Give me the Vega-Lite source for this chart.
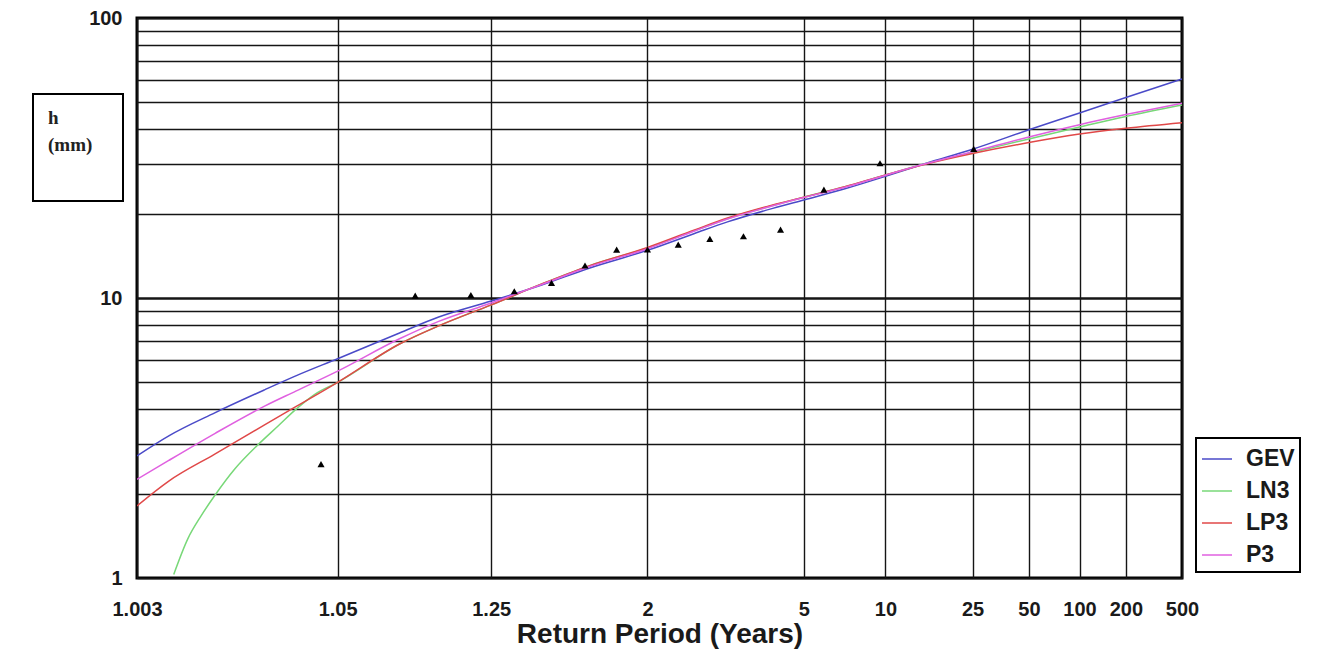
{
  "$schema": "https://vega.github.io/schema/vega-lite/v6.json",
  "width": 1045,
  "height": 560,
  "autosize": {"type": "none"},
  "padding": {"left": 137, "top": 18, "right": 138, "bottom": 71},
  "background": "white",
  "config": {
    "view": {"stroke": "#000", "strokeWidth": 3},
    "font": "Liberation Sans",
    "axis": {
      "grid": true,
      "gridColor": "#151515",
      "gridOpacity": 1,
      "gridWidth": 1.4,
      "domain": false,
      "ticks": false,
      "labelFont": "Liberation Sans",
      "labelFontWeight": "bold",
      "labelFontSize": 20,
      "labelColor": "#1a1a1a",
      "labelOverlap": false
    },
    "legend": {"strokeWidth": 2}
  },
  "datasets": {
    "curves": [
      {"dist": "GEV", "T": 1.003, "h": 2.73}, {"dist": "GEV", "T": 1.005, "h": 3.22}, {"dist": "GEV", "T": 1.01, "h": 3.89}, {"dist": "GEV", "T": 1.02, "h": 4.7}, {"dist": "GEV", "T": 1.03, "h": 5.27}, {"dist": "GEV", "T": 1.05, "h": 6.07}, {"dist": "GEV", "T": 1.1, "h": 7.5}, {"dist": "GEV", "T": 1.15, "h": 8.55}, {"dist": "GEV", "T": 1.25, "h": 9.75}, {"dist": "GEV", "T": 1.4, "h": 11.15}, {"dist": "GEV", "T": 1.6, "h": 12.75}, {"dist": "GEV", "T": 2, "h": 14.8}, {"dist": "GEV", "T": 2.5, "h": 17.0}, {"dist": "GEV", "T": 3, "h": 18.7}, {"dist": "GEV", "T": 4, "h": 20.9}, {"dist": "GEV", "T": 5, "h": 22.4}, {"dist": "GEV", "T": 7, "h": 24.6}, {"dist": "GEV", "T": 10, "h": 27.2}, {"dist": "GEV", "T": 15, "h": 30.3}, {"dist": "GEV", "T": 25, "h": 34.0}, {"dist": "GEV", "T": 50, "h": 39.9}, {"dist": "GEV", "T": 100, "h": 45.8}, {"dist": "GEV", "T": 200, "h": 52.0}, {"dist": "GEV", "T": 500, "h": 60.6},
      {"dist": "LN3", "T": 1.0054, "h": 1.03}, {"dist": "LN3", "T": 1.0067, "h": 1.38}, {"dist": "LN3", "T": 1.0082, "h": 1.67}, {"dist": "LN3", "T": 1.01, "h": 1.97}, {"dist": "LN3", "T": 1.0133, "h": 2.45}, {"dist": "LN3", "T": 1.0183, "h": 2.99}, {"dist": "LN3", "T": 1.0239, "h": 3.49}, {"dist": "LN3", "T": 1.03, "h": 4.0}, {"dist": "LN3", "T": 1.038, "h": 4.53}, {"dist": "LN3", "T": 1.05, "h": 5.0}, {"dist": "LN3", "T": 1.1, "h": 6.85}, {"dist": "LN3", "T": 1.15, "h": 7.95}, {"dist": "LN3", "T": 1.25, "h": 9.45}, {"dist": "LN3", "T": 1.4, "h": 11.25}, {"dist": "LN3", "T": 1.6, "h": 13.0}, {"dist": "LN3", "T": 2, "h": 15.1}, {"dist": "LN3", "T": 2.5, "h": 17.4}, {"dist": "LN3", "T": 3, "h": 19.2}, {"dist": "LN3", "T": 4, "h": 21.4}, {"dist": "LN3", "T": 5, "h": 22.9}, {"dist": "LN3", "T": 7, "h": 25.0}, {"dist": "LN3", "T": 10, "h": 27.5}, {"dist": "LN3", "T": 15, "h": 30.2}, {"dist": "LN3", "T": 25, "h": 33.1}, {"dist": "LN3", "T": 50, "h": 37.0}, {"dist": "LN3", "T": 100, "h": 40.8}, {"dist": "LN3", "T": 200, "h": 44.5}, {"dist": "LN3", "T": 500, "h": 48.9},
      {"dist": "LP3", "T": 1.003, "h": 1.81}, {"dist": "LP3", "T": 1.005, "h": 2.22}, {"dist": "LP3", "T": 1.01, "h": 2.77}, {"dist": "LP3", "T": 1.02, "h": 3.52}, {"dist": "LP3", "T": 1.03, "h": 4.09}, {"dist": "LP3", "T": 1.05, "h": 5.0}, {"dist": "LP3", "T": 1.1, "h": 6.85}, {"dist": "LP3", "T": 1.15, "h": 7.95}, {"dist": "LP3", "T": 1.25, "h": 9.45}, {"dist": "LP3", "T": 1.4, "h": 11.25}, {"dist": "LP3", "T": 1.6, "h": 13.0}, {"dist": "LP3", "T": 2, "h": 15.15}, {"dist": "LP3", "T": 2.5, "h": 17.5}, {"dist": "LP3", "T": 3, "h": 19.3}, {"dist": "LP3", "T": 4, "h": 21.5}, {"dist": "LP3", "T": 5, "h": 22.9}, {"dist": "LP3", "T": 7, "h": 25.0}, {"dist": "LP3", "T": 10, "h": 27.5}, {"dist": "LP3", "T": 15, "h": 30.1}, {"dist": "LP3", "T": 25, "h": 32.8}, {"dist": "LP3", "T": 50, "h": 35.9}, {"dist": "LP3", "T": 100, "h": 38.5}, {"dist": "LP3", "T": 200, "h": 40.4}, {"dist": "LP3", "T": 500, "h": 42.3},
      {"dist": "P3", "T": 1.003, "h": 2.25}, {"dist": "P3", "T": 1.005, "h": 2.63}, {"dist": "P3", "T": 1.01, "h": 3.28}, {"dist": "P3", "T": 1.02, "h": 4.11}, {"dist": "P3", "T": 1.03, "h": 4.65}, {"dist": "P3", "T": 1.05, "h": 5.48}, {"dist": "P3", "T": 1.1, "h": 7.15}, {"dist": "P3", "T": 1.15, "h": 8.25}, {"dist": "P3", "T": 1.25, "h": 9.6}, {"dist": "P3", "T": 1.4, "h": 11.2}, {"dist": "P3", "T": 1.6, "h": 12.9}, {"dist": "P3", "T": 2, "h": 15.0}, {"dist": "P3", "T": 2.5, "h": 17.35}, {"dist": "P3", "T": 3, "h": 19.15}, {"dist": "P3", "T": 4, "h": 21.35}, {"dist": "P3", "T": 5, "h": 22.85}, {"dist": "P3", "T": 7, "h": 24.9}, {"dist": "P3", "T": 10, "h": 27.45}, {"dist": "P3", "T": 15, "h": 30.2}, {"dist": "P3", "T": 25, "h": 33.3}, {"dist": "P3", "T": 50, "h": 37.6}, {"dist": "P3", "T": 100, "h": 41.6}, {"dist": "P3", "T": 200, "h": 45.2}, {"dist": "P3", "T": 500, "h": 49.6}
    ],
    "obs": [
      {"T": 1.041, "h": 2.55}, {"T": 1.118, "h": 10.2}, {"T": 1.206, "h": 10.25}, {"T": 1.31, "h": 10.57}, {"T": 1.434, "h": 11.33}, {"T": 1.583, "h": 13.06}, {"T": 1.767, "h": 14.89}, {"T": 2.0, "h": 14.9}, {"T": 2.303, "h": 15.51}, {"T": 2.714, "h": 16.26}, {"T": 3.304, "h": 16.61}, {"T": 4.222, "h": 17.55}, {"T": 5.846, "h": 24.37}, {"T": 9.5, "h": 30.3}, {"T": 25.33, "h": 34.1}
    ]
  },
  "layer": [
    {
      "data": {"name": "curves"},
      "transform": [{"calculate": "quantileNormal(1 - 1 / datum.T)", "as": "z"}],
      "mark": {"type": "line", "strokeWidth": 1.5, "interpolate": "monotone", "clip": true},
      "encoding": {
        "x": {
          "field": "z",
          "type": "quantitative",
          "scale": {"domain": [-2.7488, 2.8782], "nice": false, "zero": false},
          "axis": {
            "values": [-2.7488, -1.6683, -0.8416, 0, 0.8416, 1.2816, 1.7507, 2.0537, 2.3263, 2.5758, 2.8782],
            "labelExpr": "datum.value < -2 ? '1.003' : datum.value < -1 ? '1.05' : datum.value < -0.5 ? '1.25' : datum.value < 0.5 ? '2' : datum.value < 1 ? '5' : datum.value < 1.5 ? '10' : datum.value < 1.9 ? '25' : datum.value < 2.2 ? '50' : datum.value < 2.45 ? '100' : datum.value < 2.7 ? '200' : '500'",
            "labelFlush": false,
            "labelPadding": 21,
            "title": "Return Period (Years)",
            "titleFont": "Liberation Sans",
            "titleFontSize": 28,
            "titleFontWeight": "bold",
            "titleColor": "#1a1a1a",
            "titleBaseline": "alphabetic",
            "titleY": 64
          }
        },
        "y": {
          "field": "h",
          "type": "quantitative",
          "scale": {"type": "log", "domain": [1, 100], "nice": false},
          "axis": {
            "values": [1, 2, 3, 4, 5, 6, 7, 8, 9, 10, 20, 30, 40, 50, 60, 70, 80, 90, 100],
            "format": "d",
            "labelExpr": "datum.value == 1 || datum.value == 10 || datum.value == 100 ? datum.label : ''",
            "labelPadding": 15,
            "title": null,
            "gridWidth": {"condition": {"test": "datum.value == 10", "value": 2.6}, "value": 1.4}
          }
        },
        "color": {
          "field": "dist",
          "type": "nominal",
          "scale": {"domain": ["GEV", "LN3", "LP3", "P3"], "range": ["#4a4ac8", "#78d878", "#e04848", "#e060e0"]},
          "legend": {
            "title": null,
            "orient": "none",
            "legendX": 1059,
            "legendY": 420,
            "strokeColor": "#000",
            "fillColor": "white",
            "padding": 5,
            "symbolType": "stroke",
            "symbolSize": 900,
            "symbolStrokeWidth": 1.5,
            "labelFont": "Liberation Sans",
            "labelFontWeight": "bold",
            "labelFontSize": 23,
            "labelColor": "#1a1a1a",
            "labelOffset": 13,
            "rowPadding": 4
          }
        }
      }
    },
    {
      "data": {"name": "obs"},
      "transform": [{"calculate": "quantileNormal(1 - 1 / datum.T)", "as": "z"}],
      "mark": {"type": "point", "filled": true, "color": "#000", "size": 50, "opacity": 1},
      "encoding": {
        "x": {"field": "z", "type": "quantitative"},
        "y": {"field": "h", "type": "quantitative"},
        "shape": {
          "datum": "h (mm)",
          "scale": {"range": ["triangle-up"]},
          "legend": {
            "title": ["h", "(mm)"],
            "orient": "none",
            "legendX": -104,
            "legendY": 76,
            "strokeColor": "#000",
            "padding": 15,
            "titleFont": "Liberation Serif",
            "titleFontSize": 19,
            "titleFontWeight": "bold",
            "titleColor": "#222",
            "titleLineHeight": 27,
            "titlePadding": 3,
            "symbolSize": 900,
            "symbolOpacity": 0,
            "symbolStrokeWidth": 0,
            "labelExpr": "''",
            "labelOffset": 30
          }
        }
      }
    }
  ]
}
